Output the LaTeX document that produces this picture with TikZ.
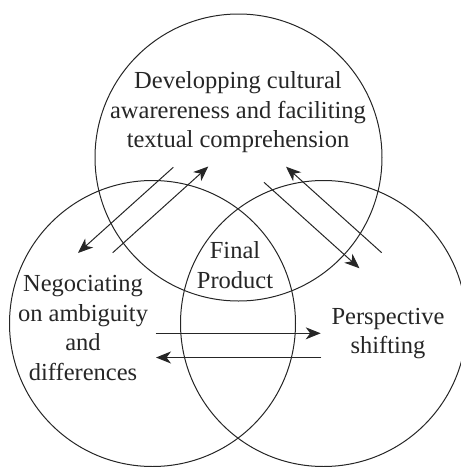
\documentclass[tikz,border=0pt]{standalone}
\usepackage{fontspec}
\setmainfont{Liberation Serif}
\usetikzlibrary{arrows.meta}
\begin{document}
\begin{tikzpicture}[x=1pt,y=-1pt,
  ring/.style={draw=black!85,line width=1pt},
  lbl/.style={align=center,inner sep=0pt,font=\fontsize{24.5}{29.5}\selectfont,text=black!85},
  flow/.style={draw=black!85,line width=1pt,-{Stealth[length=15pt,width=12pt,inset=4.5pt]}}]
\useasboundingbox (0,0) rectangle (461,467);
\begin{scope}
\clip (0,0) rectangle (461,467);
\draw[ring] (238.5,157.5) circle[radius=143.5pt];
\draw[ring] (152.5,323.5) circle[radius=143pt];
\draw[ring] (323.5,323.5) circle[radius=143pt];
\end{scope}
\node[lbl] (top) at (238,112.5) {Developping cultural\\awarereness and faciliting\\textual comprehension};
\node[lbl] (fin) at (235,265) {Final\\Product};
\node[lbl] (neg) at (83,328) {Negociating\\on ambiguity\\and\\differences};
\node[lbl] (per) at (388,333.5) {Perspective\\shifting};
\coordinate (a1s) at (173.3,167.3); \coordinate (a1e) at (78,253);
\coordinate (a2s) at (112.7,252.7); \coordinate (a2e) at (208.3,166.5);
\coordinate (a3s) at (264,182.3); \coordinate (a3e) at (359.5,268.3);
\coordinate (a4s) at (381.7,252.7); \coordinate (a4e) at (286,166.7);
\coordinate (a5s) at (155.7,333.3); \coordinate (a5e) at (320.7,333.3);
\coordinate (a6s) at (321.3,357.5); \coordinate (a6e) at (156,357.5);
\draw[flow] (a1s) -- (a1e);
\draw[flow] (a2s) -- (a2e);
\draw[flow] (a3s) -- (a3e);
\draw[flow] (a4s) -- (a4e);
\draw[flow] (a5s) -- (a5e);
\draw[flow] (a6s) -- (a6e);
\end{tikzpicture}
\end{document}
